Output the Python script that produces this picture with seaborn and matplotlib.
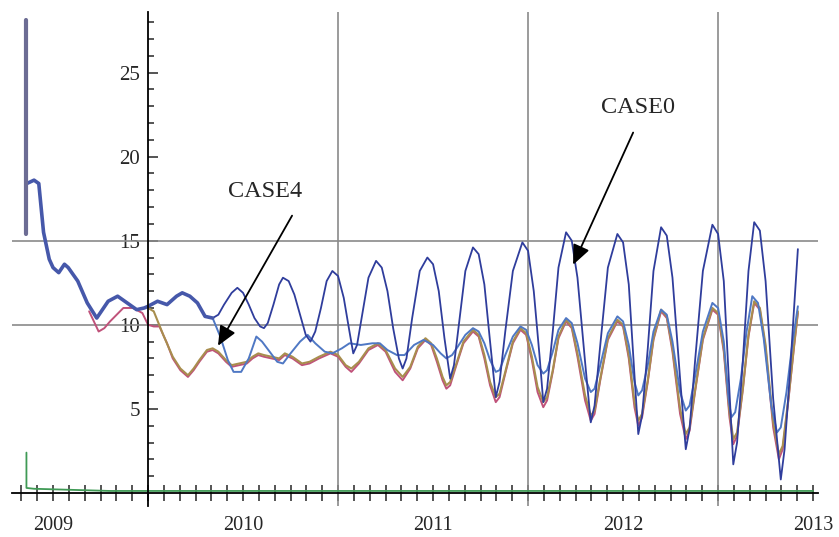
import matplotlib
matplotlib.use("Agg")
import matplotlib.pyplot as plt
import matplotlib.ticker as mticker
import seaborn as sns

# ---- data: (decimal year, value) ----
spike = [(2008.86, 15.4), (2008.86, 28.1)]

history = [(2008.862, 18.4), (2008.90, 18.6), (2008.925, 18.4), (2008.95, 15.5),
           (2008.98, 13.9), (2009.00, 13.4), (2009.03, 13.1), (2009.06, 13.6),
           (2009.08, 13.4), (2009.13, 12.6), (2009.18, 11.3), (2009.23, 10.4),
           (2009.26, 10.9), (2009.29, 11.4), (2009.34, 11.7), (2009.39, 11.3),
           (2009.44, 10.9), (2009.48, 11.0), (2009.50, 11.1), (2009.55, 11.4),
           (2009.60, 11.2), (2009.65, 11.7), (2009.68, 11.9), (2009.72, 11.7),
           (2009.76, 11.3), (2009.80, 10.5), (2009.84, 10.4)]

case0 = [(2009.84, 10.4), (2009.87, 10.6), (2009.90, 11.2), (2009.94, 11.9),
         (2009.97, 12.2), (2010.00, 11.9), (2010.03, 11.2), (2010.06, 10.4),
         (2010.09, 9.9), (2010.11, 9.8), (2010.13, 10.1), (2010.16, 11.2),
         (2010.19, 12.4), (2010.21, 12.8), (2010.24, 12.6), (2010.27, 11.8),
         (2010.30, 10.6), (2010.33, 9.4), (2010.355, 9.0), (2010.38, 9.6),
         (2010.41, 11.0), (2010.44, 12.6), (2010.47, 13.2), (2010.50, 12.9),
         (2010.53, 11.6), (2010.56, 9.6), (2010.58, 8.3), (2010.60, 8.8),
         (2010.63, 10.8), (2010.66, 12.8), (2010.70, 13.8), (2010.73, 13.4),
         (2010.76, 12.0), (2010.79, 9.8), (2010.82, 8.0), (2010.84, 7.4),
         (2010.86, 8.0), (2010.89, 10.4), (2010.93, 13.2), (2010.97, 14.0),
         (2011.00, 13.6), (2011.03, 12.0), (2011.06, 9.2), (2011.09, 6.8),
         (2011.11, 7.6), (2011.14, 10.4), (2011.17, 13.2), (2011.21, 14.6),
         (2011.24, 14.2), (2011.27, 12.4), (2011.30, 9.0), (2011.33, 5.7),
         (2011.35, 6.6), (2011.38, 9.6), (2011.42, 13.2), (2011.47, 14.9),
         (2011.50, 14.4), (2011.53, 12.0), (2011.56, 8.2), (2011.58, 5.4),
         (2011.60, 6.2), (2011.63, 9.6), (2011.66, 13.4), (2011.70, 15.5),
         (2011.73, 15.0), (2011.76, 12.8), (2011.80, 7.8), (2011.83, 4.2),
         (2011.85, 5.2), (2011.88, 8.8), (2011.92, 13.4), (2011.97, 15.4),
         (2012.00, 14.9), (2012.03, 12.4), (2012.06, 7.0), (2012.08, 3.5),
         (2012.10, 4.6), (2012.13, 8.6), (2012.16, 13.2), (2012.20, 15.8),
         (2012.23, 15.3), (2012.26, 12.8), (2012.30, 6.8), (2012.33, 2.6),
         (2012.35, 3.8), (2012.38, 8.0), (2012.42, 13.2), (2012.47, 15.95),
         (2012.50, 15.4), (2012.53, 12.6), (2012.56, 6.0), (2012.58, 1.7),
         (2012.60, 3.0), (2012.63, 7.8), (2012.66, 13.2), (2012.69, 16.1),
         (2012.72, 15.6), (2012.75, 12.6), (2012.79, 5.6), (2012.83, 0.8),
         (2012.85, 2.6), (2012.88, 7.4), (2012.90, 11.0), (2012.92, 14.5)]

middle = [(2009.84, 10.4), (2009.88, 9.3), (2009.92, 7.9), (2009.95, 7.2),
          (2009.99, 7.2), (2010.03, 8.0), (2010.07, 9.3), (2010.10, 9.0),
          (2010.14, 8.4), (2010.18, 7.8), (2010.21, 7.7), (2010.25, 8.3),
          (2010.30, 9.0), (2010.34, 9.4), (2010.38, 8.9), (2010.43, 8.4),
          (2010.47, 8.3), (2010.52, 8.6), (2010.56, 8.9), (2010.62, 8.8),
          (2010.68, 8.9), (2010.72, 8.9), (2010.76, 8.5), (2010.81, 8.2),
          (2010.85, 8.2), (2010.90, 8.8), (2010.95, 9.1), (2011.00, 8.8),
          (2011.04, 8.3), (2011.07, 8.0), (2011.10, 8.2), (2011.13, 8.7),
          (2011.17, 9.4), (2011.21, 9.8), (2011.24, 9.6), (2011.27, 8.9),
          (2011.30, 7.9), (2011.33, 7.2), (2011.35, 7.3), (2011.38, 8.2),
          (2011.42, 9.3), (2011.46, 9.9), (2011.49, 9.7), (2011.52, 8.8),
          (2011.55, 7.6), (2011.58, 7.1), (2011.60, 7.3), (2011.63, 8.4),
          (2011.66, 9.7), (2011.70, 10.4), (2011.73, 10.1), (2011.76, 8.9),
          (2011.80, 6.8), (2011.83, 6.0), (2011.85, 6.2), (2011.88, 7.6),
          (2011.92, 9.5), (2011.97, 10.5), (2012.00, 10.2), (2012.03, 8.8),
          (2012.06, 6.6), (2012.08, 5.8), (2012.10, 6.1), (2012.13, 7.6),
          (2012.16, 9.6), (2012.20, 10.9), (2012.23, 10.6), (2012.26, 9.0),
          (2012.30, 6.0), (2012.33, 4.9), (2012.35, 5.2), (2012.38, 7.0),
          (2012.42, 9.6), (2012.47, 11.3), (2012.50, 11.0), (2012.53, 9.0),
          (2012.555, 5.6), (2012.57, 4.5), (2012.59, 4.8), (2012.62, 6.8),
          (2012.65, 9.6), (2012.68, 11.7), (2012.71, 11.3), (2012.74, 9.2),
          (2012.78, 5.2), (2012.81, 3.6), (2012.83, 3.9), (2012.86, 6.0),
          (2012.89, 8.8), (2012.92, 11.1)]

case4 = [(2009.50, 11.0), (2009.53, 10.8), (2009.58, 9.4), (2009.63, 8.1),
         (2009.67, 7.4), (2009.71, 7.0), (2009.74, 7.4), (2009.77, 7.9),
         (2009.81, 8.5), (2009.84, 8.6), (2009.87, 8.4), (2009.91, 7.9),
         (2009.94, 7.6), (2009.98, 7.7), (2010.02, 7.8), (2010.05, 8.1),
         (2010.08, 8.3), (2010.11, 8.2), (2010.15, 8.1), (2010.19, 8.0),
         (2010.22, 8.3), (2010.26, 8.1), (2010.31, 7.7), (2010.35, 7.8),
         (2010.40, 8.1), (2010.46, 8.4), (2010.50, 8.2), (2010.54, 7.6),
         (2010.57, 7.4), (2010.61, 7.8), (2010.66, 8.6), (2010.71, 8.9),
         (2010.75, 8.5), (2010.80, 7.4), (2010.84, 6.9), (2010.88, 7.5),
         (2010.92, 8.7), (2010.96, 9.2), (2010.99, 8.9), (2011.02, 8.0),
         (2011.05, 6.9), (2011.07, 6.4), (2011.09, 6.6), (2011.12, 7.6),
         (2011.16, 9.0), (2011.21, 9.7), (2011.24, 9.4), (2011.27, 8.2),
         (2011.30, 6.6), (2011.33, 5.7), (2011.35, 5.9), (2011.38, 7.2),
         (2011.42, 9.0), (2011.46, 9.8), (2011.49, 9.5), (2011.52, 8.1),
         (2011.55, 6.3), (2011.58, 5.4), (2011.60, 5.7), (2011.63, 7.3),
         (2011.66, 9.3), (2011.70, 10.3), (2011.73, 9.9), (2011.76, 8.3),
         (2011.80, 5.8), (2011.83, 4.6), (2011.85, 4.9), (2011.88, 6.8),
         (2011.92, 9.2), (2011.97, 10.3), (2012.00, 10.0), (2012.03, 8.2),
         (2012.06, 5.4), (2012.08, 4.3), (2012.10, 4.7), (2012.13, 6.7),
         (2012.16, 9.2), (2012.20, 10.9), (2012.23, 10.5), (2012.26, 8.6),
         (2012.30, 5.0), (2012.33, 3.5), (2012.35, 3.9), (2012.38, 6.2),
         (2012.42, 9.2), (2012.47, 11.0), (2012.50, 10.7), (2012.53, 8.6),
         (2012.56, 4.8), (2012.58, 3.2), (2012.60, 3.6), (2012.63, 6.2),
         (2012.66, 9.4), (2012.69, 11.4), (2012.72, 11.0), (2012.75, 8.8),
         (2012.79, 4.2), (2012.82, 2.3), (2012.84, 2.8), (2012.87, 5.6),
         (2012.90, 8.8), (2012.92, 10.8)]

red = [(2009.19, 10.8), (2009.24, 9.6), (2009.27, 9.8), (2009.30, 10.2),
       (2009.37, 11.0), (2009.42, 11.0), (2009.47, 10.7), (2009.50, 10.0),
       (2009.53, 9.9), (2009.56, 9.9), (2009.60, 8.9), (2009.63, 8.0),
       (2009.67, 7.3), (2009.71, 6.9), (2009.74, 7.3), (2009.77, 7.8),
       (2009.81, 8.4), (2009.84, 8.5), (2009.87, 8.3), (2009.91, 7.8),
       (2009.94, 7.5), (2009.98, 7.6), (2010.02, 7.7), (2010.05, 8.0),
       (2010.08, 8.2), (2010.11, 8.1), (2010.15, 8.0), (2010.19, 7.9),
       (2010.22, 8.2), (2010.26, 8.0), (2010.31, 7.6), (2010.35, 7.7),
       (2010.40, 8.0), (2010.46, 8.3), (2010.50, 8.1), (2010.54, 7.5),
       (2010.57, 7.2), (2010.61, 7.7), (2010.66, 8.5), (2010.71, 8.8),
       (2010.75, 8.4), (2010.80, 7.2), (2010.84, 6.7), (2010.88, 7.4),
       (2010.92, 8.6), (2010.96, 9.1), (2010.99, 8.8), (2011.02, 7.8),
       (2011.05, 6.7), (2011.07, 6.2), (2011.09, 6.4), (2011.12, 7.5),
       (2011.16, 8.9), (2011.21, 9.6), (2011.24, 9.3), (2011.27, 8.0),
       (2011.30, 6.4), (2011.33, 5.4), (2011.35, 5.7), (2011.38, 7.1),
       (2011.42, 8.9), (2011.46, 9.7), (2011.49, 9.4), (2011.52, 7.9),
       (2011.55, 6.0), (2011.58, 5.1), (2011.60, 5.5), (2011.63, 7.2),
       (2011.66, 9.2), (2011.70, 10.2), (2011.73, 9.8), (2011.76, 8.1),
       (2011.80, 5.5), (2011.83, 4.3), (2011.85, 4.7), (2011.88, 6.7),
       (2011.92, 9.1), (2011.97, 10.2), (2012.00, 9.9), (2012.03, 8.0),
       (2012.06, 5.1), (2012.08, 4.0), (2012.10, 4.5), (2012.13, 6.6),
       (2012.16, 9.1), (2012.20, 10.8), (2012.23, 10.4), (2012.26, 8.4),
       (2012.30, 4.7), (2012.33, 3.2), (2012.35, 3.7), (2012.38, 6.1),
       (2012.42, 9.1), (2012.47, 10.9), (2012.50, 10.6), (2012.53, 8.4),
       (2012.56, 4.5), (2012.58, 2.9), (2012.60, 3.4), (2012.63, 6.1),
       (2012.66, 9.3), (2012.69, 11.3), (2012.72, 10.9), (2012.75, 8.6),
       (2012.79, 3.9), (2012.82, 2.0), (2012.84, 2.6), (2012.87, 5.5),
       (2012.90, 8.7), (2012.92, 10.7)]

green = [(2008.86, 2.4), (2008.86, 0.3), (2008.90, 0.25), (2009.30, 0.12),
         (2013.00, 0.12)]

major_y = [5, 10, 15, 20, 25]
minor_y = [1, 2, 3, 4, 6, 7, 8, 9, 11, 12, 13, 14, 16, 17, 18, 19,
           21, 22, 23, 24, 26, 27, 28]
year_ticks = [2009, 2010, 2011, 2012, 2013]
year_labels = ["2009", "2010", "2011", "2012", "2013"]
grid_years = [2010.5, 2011.5, 2012.5]
grid_vals = [10, 15]


def draw(points, color, lw):
    xs = [p[0] for p in points]
    ys = [p[1] for p in points]
    sns.lineplot(x=xs, y=ys, ax=ax, color=color, lw=lw, sort=False,
                 estimator=None, solid_joinstyle='round', solid_capstyle='round')


sns.set_style("white")
plt.rcParams['font.family'] = ['Liberation Serif', 'DejaVu Serif']

fig = plt.figure(figsize=(8.39, 5.37), dpi=100)
ax = fig.add_axes([0.0143, 0.0585, 0.9607, 0.9192])
ax.set_xlim(2008.784, 2013.026)
ax.set_ylim(-0.75, 28.6)

for gv in grid_vals:
    ax.axhline(gv, color='#8a8a8a', lw=1.2, zorder=1)
for gy in grid_years:
    ax.axvline(gy, color='#8a8a8a', lw=1.2, zorder=1)

draw(green, '#3f9a55', 1.3)
draw(red, '#c0527a', 1.4)
draw(case4, '#a88e4e', 1.5)
draw(middle, '#4f78c4', 1.4)
draw(case0, '#2f3d9c', 1.3)
draw(history, '#4658aa', 2.6)
draw(spike, '#6c6c94', 3.0)

# axes crossing inside the frame, Mathematica style
ax.spines['top'].set_visible(False)
ax.spines['right'].set_visible(False)
ax.spines['left'].set_position(('data', 2009.5))
ax.spines['bottom'].set_position(('data', 0))
for s in ('left', 'bottom'):
    ax.spines[s].set_color('black')
    ax.spines[s].set_linewidth(1.3)

ax.yaxis.set_major_locator(mticker.FixedLocator(major_y))
ax.yaxis.set_minor_locator(mticker.FixedLocator(minor_y))
ax.set_yticklabels([str(v) for v in major_y])
ax.tick_params(axis='y', which='major', direction='in', length=7.5, width=1.1,
               labelsize=15, pad=6, left=True)
ax.tick_params(axis='y', which='minor', direction='in', length=4.5, width=1.1, left=True)

ax.xaxis.set_major_locator(mticker.FixedLocator(year_ticks))
ax.set_xticklabels(year_labels)
ax.xaxis.set_minor_locator(mticker.MultipleLocator(1 / 12))
ax.tick_params(axis='x', which='both', direction='inout', length=11.5, width=1.1,
               bottom=True)
ax.tick_params(axis='x', which='major', labelsize=14.5, pad=11)

ax.set_xlabel('')
ax.set_ylabel('')

arrow = dict(arrowstyle='-|>,head_length=0.8,head_width=0.35', color='black',
             lw=1.3, mutation_scale=15, shrinkA=0, shrinkB=0)
ax.text(2010.116, 17.92, 'CASE4', fontsize=17.5, ha='center', va='center')
ax.annotate('', xy=(2009.868, 8.75), xytext=(2010.258, 16.49), arrowprops=arrow)
ax.text(2012.079, 22.92, 'CASE0', fontsize=17.5, ha='center', va='center')
ax.annotate('', xy=(2011.737, 13.57), xytext=(2012.053, 21.43), arrowprops=arrow)

fig.savefig('out.png', dpi=100)
